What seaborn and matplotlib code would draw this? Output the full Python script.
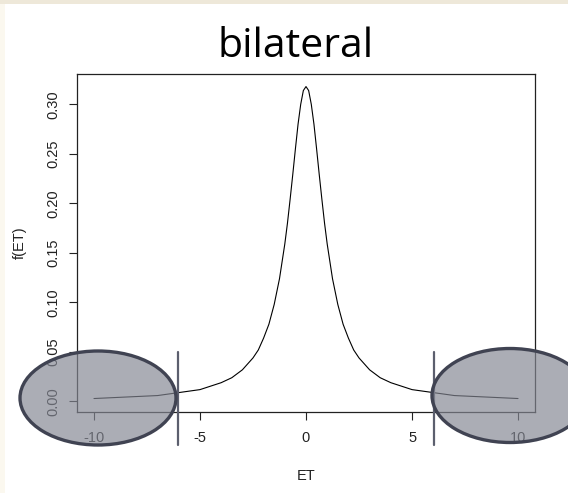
import matplotlib
matplotlib.use("Agg")
import matplotlib.pyplot as plt
from matplotlib.patches import Ellipse, Rectangle
import seaborn as sns
import pandas as pd

# Density curve f(ET), read at selected ET values
et_values = [-10, -9, -8, -7, -6, -5, -4, -3.5, -3, -2.5, -2.25, -2, -1.75, -1.5,
             -1.25, -1, -0.875, -0.75, -0.625, -0.5, -0.375, -0.25, -0.125, 0,
             0.125, 0.25, 0.375, 0.5, 0.625, 0.75, 0.875, 1, 1.25, 1.5,
             1.75, 2, 2.25, 2.5, 3, 3.5, 4, 5, 6, 7, 8, 9, 10]
density = [0.003, 0.004, 0.005, 0.006, 0.009, 0.012, 0.019, 0.024, 0.032, 0.044,
           0.052, 0.064, 0.078, 0.098, 0.124, 0.159, 0.180, 0.204, 0.229, 0.255,
           0.280, 0.300, 0.314, 0.318,
           0.314, 0.300, 0.280, 0.255, 0.229, 0.204, 0.180, 0.159, 0.124, 0.098,
           0.078, 0.064, 0.052, 0.044, 0.032, 0.024, 0.019, 0.012, 0.009, 0.006,
           0.005, 0.004, 0.003]

# Two-sided critical values marking the rejection regions
critical_values = [-6.05, 6.05]

x_ticks = [-10, -5, 0, 5, 10]
y_ticks = [0.00, 0.05, 0.10, 0.15, 0.20, 0.25, 0.30]
y_tick_labels = ["0.00", "0.05", "0.10", "0.15", "0.20", "0.25", "0.30"]

title_text = "bilateral"
x_label = "ET"
y_label = "f(ET)"

sns.set_theme(style="white")
plt.rcParams["font.family"] = ["Liberation Sans", "DejaVu Sans"]

W, H = 568, 493
fig = plt.figure(figsize=(W / 100, H / 100), dpi=100)
fig.patch.set_facecolor("white")

# faint page border strips
fig.add_artist(Rectangle((0, 0), 5 / W, 1, transform=fig.transFigure,
                         facecolor="#fbf8ef", edgecolor="none", zorder=0))
fig.add_artist(Rectangle((0, 1 - 4 / H), 1, 4 / H, transform=fig.transFigure,
                         facecolor="#eee8d9", edgecolor="none", zorder=0))

ax = fig.add_axes([77 / W, 1 - 411.5 / H, (535 - 77) / W, (411.5 - 73.5) / H])

df = pd.DataFrame({"ET": et_values, "f": density})
sns.lineplot(data=df, x="ET", y="f", ax=ax, color="black", linewidth=0.8)

ax.set_xlim(-10.8, 10.8)
ax.set_ylim(-0.0101, 0.3312)
ax.set_xticks(x_ticks)
ax.set_xticklabels([str(t) for t in x_ticks])
ax.set_yticks(y_ticks)
ax.set_yticklabels(y_tick_labels, rotation=90, va="center")

for side in ["left", "right", "top", "bottom"]:
    ax.spines[side].set_visible(True)
    ax.spines[side].set_color("#222222")
    ax.spines[side].set_linewidth(0.9)

ax.tick_params(axis="both", which="both", direction="out", length=6,
               width=0.8, color="#222222", labelsize=10.5, labelcolor="#222222",
               bottom=True, left=True)
ax.tick_params(axis="x", pad=8)
ax.tick_params(axis="y", pad=6)

ax.set_xlabel(x_label, fontsize=10.5, color="#222222", labelpad=17)
ax.set_ylabel(y_label, fontsize=10.5, color="#222222", labelpad=14)
ax.grid(False)

# critical value markers
for cv in critical_values:
    ax.plot([cv, cv], [-0.0435, 0.0495], color="#5c5f6e", linewidth=1.6,
            clip_on=False, zorder=5)

# shaded ellipses over the two tails
for cx, cy in [(98, 398), (510, 395.5)]:
    fig.add_artist(Ellipse((cx / W, 1 - cy / H), 156 / W, 94 / H,
                           transform=fig.transFigure, facecolor="#848793",
                           alpha=0.68, edgecolor="none", zorder=10))
    fig.add_artist(Ellipse((cx / W, 1 - cy / H), 156 / W, 94 / H,
                           transform=fig.transFigure, facecolor="none",
                           edgecolor="#404352", linewidth=2.4, zorder=11))

fig.text(296 / W, 1 - 47 / H, title_text, fontsize=29.5, ha="center",
         va="center", color="black", family=["Open Sans", "DejaVu Sans"])

fig.savefig("out.png", dpi=100)
